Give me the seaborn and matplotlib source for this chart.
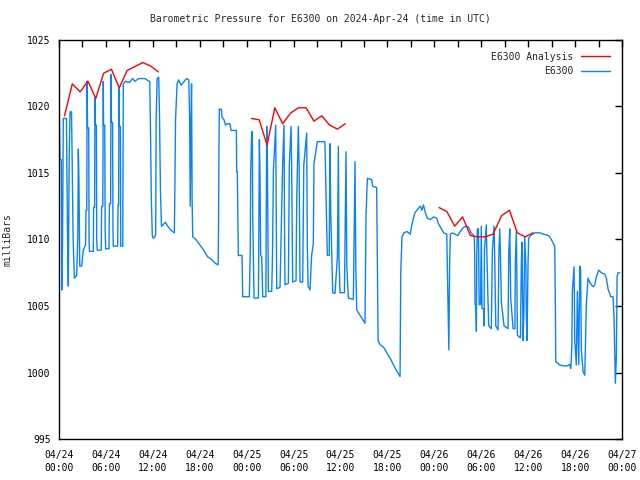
import pandas as pd
import matplotlib
matplotlib.use("Agg")
import matplotlib.pyplot as plt
import matplotlib.dates as mdates
import seaborn as sns

# hours after 2024-04-24 00:00 UTC, pressure in mb
blue_hours_a = [
    0.05, 0.12, 0.30, 0.35, 0.45, 0.55, 0.95, 1.00, 1.10, 1.19, 1.30, 1.41, 1.60, 1.66, 1.80, 1.96,
    2.26, 2.40, 2.47, 2.55, 2.65, 2.90, 3.10, 3.40, 3.45, 3.55, 3.60, 3.65, 3.80, 3.84, 3.90, 4.39,
    4.42, 4.55, 4.60, 4.65, 4.78, 4.82, 4.88, 5.40, 5.45, 5.60, 5.66, 5.70, 5.85, 5.90, 5.97, 6.39,
    6.45, 6.60, 6.65, 6.70, 6.85, 6.90, 6.94, 7.50, 7.55, 7.62, 7.67, 7.72, 7.85, 7.89, 8.15, 8.22,
    8.5, 9.0, 9.4, 9.7, 10.2, 11.0, 11.5, 11.6,
]
blue_mb_a = [
    1019.1, 1016.0, 1016.0, 1006.2, 1009.6, 1019.1, 1019.1, 1016.0, 1009.7, 1006.5, 1016.0, 1019.6,
    1019.6, 1017.0, 1010.2, 1007.1, 1007.3, 1010.2, 1016.8, 1014.4, 1008.0, 1008.0, 1009.2, 1009.6,
    1012.2, 1012.2, 1021.9, 1018.4, 1018.4, 1009.9, 1009.1, 1009.1, 1012.4, 1012.4, 1020.6, 1018.6,
    1018.6, 1010.0, 1009.2, 1009.2, 1012.5, 1012.5, 1021.9, 1018.6, 1018.6, 1010.8, 1009.3, 1009.3,
    1012.7, 1012.7, 1022.4, 1018.8, 1018.8, 1010.8, 1009.5, 1009.5, 1012.6, 1012.6, 1021.4, 1018.5,
    1018.5, 1009.5, 1009.5, 1021.7, 1021.9, 1021.8, 1022.1, 1021.9, 1022.1, 1022.1, 1021.9, 1021.9,
]
blue_hours_b = [
    11.68, 11.80, 11.93, 12.05, 12.25, 12.36, 12.42, 12.55, 12.75, 12.85, 12.97, 13.10, 13.3, 13.6,
    13.9, 14.3, 14.75, 14.80, 14.90, 15.10, 15.3, 15.6, 15.9, 16.3, 16.6, 16.70, 16.78, 16.88, 16.95,
    17.02, 17.10, 17.5, 18.0, 18.5, 19.0, 19.5, 20.0, 20.35, 20.40, 20.45, 20.50,
    20.75, 20.85, 21.1, 21.3, 21.5, 21.87, 22.0, 22.68, 22.72, 22.8, 22.93, 23.4, 23.49, 24.34, 24.45,
    24.51, 24.64, 24.72, 24.77, 24.94, 25.5, 25.62, 25.7, 25.79, 25.92, 26.05, 26.45, 26.56, 26.65,
    26.77, 27.2, 27.3, 27.41, 27.71, 27.78, 27.84, 28.26, 28.6, 28.77, 28.85, 28.9, 29.33, 29.45,
    29.67, 29.75, 29.88, 30.31, 30.4, 30.6, 30.7, 30.82, 31.16, 31.3, 31.67, 31.75, 31.85, 32.1, 32.3,
    32.52, 32.6, 33.03, 34.0, 34.1, 34.31, 34.55, 34.65, 34.75, 35.0, 35.29, 35.6, 35.72, 35.8, 35.93,
    36.5, 36.7, 36.8, 37.0, 37.64, 37.85, 37.95, 38.07, 38.5, 39.13, 39.26, 39.43, 39.99, 40.11,
    40.62, 40.75, 40.8, 41.05, 41.5, 42.0, 42.5, 43.0, 43.61,
]
blue_mb_b = [
    1019.1, 1013.2, 1010.3, 1010.1, 1010.2, 1010.4, 1019.1, 1022.1, 1022.2, 1019.3, 1013.7, 1011.0,
    1011.1, 1011.3, 1011.0, 1010.7, 1010.5, 1013.0, 1019.0, 1021.7, 1022.0, 1021.6, 1021.8, 1022.1,
    1022.0, 1019.1, 1012.5, 1019.0, 1021.7, 1013.0, 1010.2, 1010.0, 1009.6, 1009.2, 1008.7, 1008.5,
    1008.2, 1008.1, 1011.0, 1016.7, 1019.8,
    1019.8, 1019.2, 1019.0, 1018.6, 1018.7, 1018.7, 1018.2, 1018.2, 1015.1, 1015.1, 1008.8, 1008.8,
    1005.7, 1005.7, 1008.9, 1015.0, 1018.1, 1018.1, 1011.8, 1005.6, 1005.6, 1017.5, 1015.1, 1008.8,
    1008.7, 1005.7, 1005.7, 1018.5, 1016.0, 1006.1, 1006.1, 1008.8, 1015.1, 1018.6, 1012.0, 1006.3,
    1006.4, 1015.7, 1018.6, 1009.7, 1006.6, 1006.7, 1015.6, 1018.5, 1015.5, 1006.8, 1006.9, 1013.2,
    1018.5, 1015.6, 1006.8, 1006.8, 1015.6, 1018.0, 1009.7, 1006.5, 1006.2, 1008.8, 1009.7, 1015.7,
    1017.35, 1017.35, 1014.5, 1008.8, 1008.8, 1017.2, 1012.0, 1006.0, 1005.95, 1008.7, 1017.0,
    1008.7, 1006.0, 1006.0, 1016.6, 1008.0, 1005.6, 1005.5, 1015.85, 1008.0, 1004.7, 1004.3, 1003.7,
    1011.8, 1014.6, 1014.5, 1014.0, 1013.9, 1005.5, 1002.4, 1002.1, 1001.9, 1001.4, 1000.9, 1000.3,
    999.7,
]
blue_hours_c = [
    43.7, 43.86, 44.1, 44.5, 44.9, 45.15, 45.5, 45.9, 46.2, 46.4, 46.6, 46.85, 47.1, 47.5, 47.9, 48.3,
    48.5, 48.9, 49.2, 49.58, 49.65, 49.8, 49.85, 49.95, 50.05, 50.3, 50.6, 51.0, 51.3, 51.7, 52.1,
    52.4, 52.7, 53.0,
    53.1, 53.16, 53.2, 53.3, 53.37, 53.42, 53.49, 53.62, 53.67, 53.72, 53.9, 54.0, 54.09, 54.3, 54.35,
    54.4, 54.64, 54.7, 54.86, 54.95, 55.28, 55.41, 55.63, 55.7, 55.8, 55.85, 56.14, 56.25, 56.36,
    56.45, 56.56, 56.91, 57.42, 57.51, 57.64, 57.7, 57.76, 58.06, 58.3, 58.35, 58.48, 58.55, 58.61,
    59.0, 59.12, 59.2, 59.3, 59.34, 59.45, 59.55, 59.7, 59.76, 59.85, 59.97, 60.05, 60.3, 60.83, 61.47,
    62.0, 62.53, 62.75, 62.95, 63.2, 63.39, 63.47, 63.52, 63.8, 64.03, 64.5, 65.0, 65.31, 65.43, 65.51,
    65.58, 65.64, 65.86, 65.95, 66.15, 66.28, 66.4, 66.46, 66.59, 66.7, 66.79, 67.01, 67.23, 67.43,
    67.65, 67.86, 68.07, 68.29, 68.5, 68.71, 69.02, 69.35, 69.78, 69.99, 70.2, 70.55, 70.84, 70.97,
    71.14, 71.27, 71.36, 71.48, 71.7,
]
blue_mb_c = [
    1007.6, 1010.2, 1010.5, 1010.6, 1010.4, 1011.2, 1012.0, 1012.3, 1012.5, 1012.2, 1012.6, 1012.0,
    1011.6, 1011.5, 1011.7, 1011.6, 1011.2, 1010.8, 1010.5, 1010.4, 1008.2, 1003.8, 1001.7, 1008.2,
    1010.4, 1010.5, 1010.4, 1010.3, 1010.6, 1010.9, 1011.0, 1010.9, 1010.5, 1010.3,
    1010.2, 1008.8, 1005.1, 1005.1, 1003.1, 1008.8, 1010.8, 1010.8, 1008.8, 1005.1, 1005.1, 1011.0,
    1004.8, 1004.8, 1003.5, 1009.2, 1011.1, 1009.2, 1005.3, 1003.5, 1003.3, 1009.1, 1011.0, 1009.1,
    1005.3, 1003.5, 1003.2, 1009.1, 1010.8, 1008.8, 1005.3, 1003.5, 1003.3, 1009.0, 1010.8, 1008.5,
    1005.6, 1003.3, 1003.3, 1008.3, 1010.6, 1007.3, 1002.8, 1002.6, 1008.3, 1009.8, 1004.6, 1002.4,
    1004.6, 1010.2, 1008.0, 1004.3, 1002.4, 1008.0, 1010.1, 1010.3, 1010.5, 1010.5,
    1010.4, 1010.3, 1010.2, 1010.0, 1009.7, 1009.5, 1005.1, 1000.8, 1000.7, 1000.56, 1000.5, 1000.5,
    1000.6, 1000.3, 1001.0, 1002.2, 1006.1, 1007.95, 1002.4, 1000.56, 1006.1, 1002.4, 1000.6, 1008.0,
    1007.7, 1001.7, 1000.06, 999.8, 1005.2, 1007.1, 1006.8, 1006.6, 1006.45, 1006.6, 1007.2, 1007.7,
    1007.5, 1007.4, 1007.1, 1006.3, 1005.7, 1005.7, 1004.2, 999.2, 1001.2, 1007.2, 1007.5, 1007.5,
]

red_hours_1 = [0.7, 1.7, 2.7, 3.7, 4.7, 5.7, 6.7, 7.7, 8.7, 9.7, 10.7, 11.7, 12.7]
red_mb_1 = [1019.3, 1021.7, 1021.1, 1021.9, 1020.6, 1022.5, 1022.8, 1021.4, 1022.7, 1023.0,
            1023.3, 1023.05, 1022.6]
red_hours_2 = [24.6, 25.6, 26.6, 27.6, 28.6, 29.6, 30.6, 31.6, 32.6, 33.6, 34.6, 35.6, 36.6]
red_mb_2 = [1019.1, 1019.0, 1017.1, 1019.9, 1018.7, 1019.5, 1019.9, 1019.9, 1018.9, 1019.3,
            1018.6, 1018.3, 1018.7]
red_hours_3 = [48.6, 49.6, 50.6, 51.6, 52.6, 53.5, 54.5, 55.5, 56.6, 57.6, 58.6, 59.6, 60.6]
red_mb_3 = [1012.4, 1012.1, 1011.0, 1011.7, 1010.3, 1010.2, 1010.2, 1010.4, 1011.8, 1012.2,
            1010.5, 1010.2, 1010.5]

start = pd.Timestamp("2024-04-24 00:00")


def to_frame(hours, mb):
    return pd.DataFrame({"time": start + pd.to_timedelta(hours, unit="h"), "mb": mb})


sns.set_style("white")
plt.rcParams["font.family"] = ["DejaVu Sans Mono"]
plt.rcParams["font.size"] = 7

fig, ax = plt.subplots(figsize=(6.4, 4.8), dpi=100)
fig.subplots_adjust(left=0.0922, right=0.972, bottom=0.0854, top=0.9167)

blue = "#0a84f5"
blue_df = to_frame(blue_hours_a + blue_hours_b + blue_hours_c,
                   blue_mb_a + blue_mb_b + blue_mb_c)
sns.lineplot(data=blue_df, x="time", y="mb", ax=ax, color=blue, linewidth=1,
             estimator=None, sort=False, label="E6300")
first = True
for h, m in [(red_hours_1, red_mb_1), (red_hours_2, red_mb_2), (red_hours_3, red_mb_3)]:
    sns.lineplot(data=to_frame(h, m), x="time", y="mb", ax=ax, color="red", linewidth=1,
                 estimator=None, sort=False, label="E6300 Analysis" if first else None)
    first = False

ax.set_xlim(start, start + pd.Timedelta(hours=72))
ax.set_ylim(995, 1025)
ax.set_yticks(range(995, 1026, 5))
ax.xaxis.set_major_locator(mdates.HourLocator(byhour=[0, 6, 12, 18]))
ax.xaxis.set_minor_locator(mdates.HourLocator(byhour=range(0, 24, 3)))
ax.xaxis.set_major_formatter(mdates.DateFormatter("%m/%d\n%H:%M"))
ax.tick_params(which="both", direction="in", top=True, right=True, length=5, width=1,
               colors="black", labelsize=7)
ax.tick_params(axis="x", pad=8)
ax.tick_params(axis="y", pad=6)
for lab in ax.get_xticklabels():
    lab.set_linespacing(1.35)
for s in ax.spines.values():
    s.set_color("black")
    s.set_linewidth(1)

ax.set_xlabel("")
ax.set_ylabel("milliBars", fontsize=7)
ax.yaxis.set_label_coords(-0.083, 0.5)

handles, labels = ax.get_legend_handles_labels()
order = [labels.index("E6300 Analysis"), labels.index("E6300")]
ax.legend([handles[i] for i in order], [labels[i] for i in order], loc="upper right",
          frameon=False, markerfirst=False, handlelength=3, fontsize=7,
          borderaxespad=0.8, labelspacing=0.45, handletextpad=0.8)

fig.text(0.5, 1 - 19 / 480, "Barometric Pressure for E6300 on 2024-Apr-24 (time in UTC)",
         ha="center", va="center", fontsize=7)

fig.savefig("out.png", dpi=100)
